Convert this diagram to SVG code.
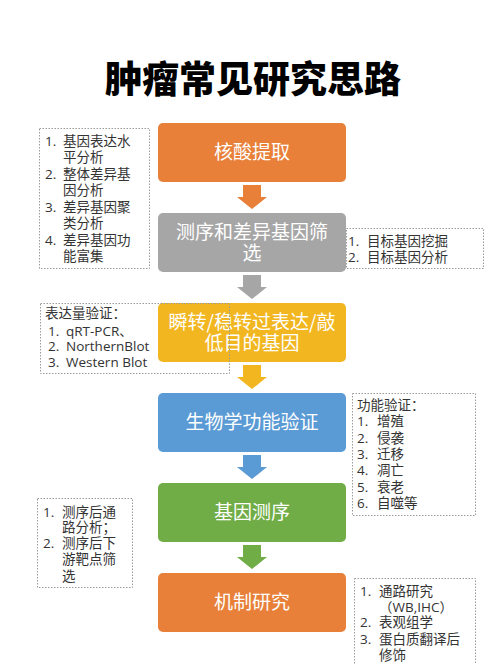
<svg xmlns="http://www.w3.org/2000/svg" width="500" height="664" viewBox="0 0 500 664">
<style>
.title{font-family:"Noto Sans CJK SC","Noto Sans",sans-serif;font-size:37px;font-weight:900;fill:#000;text-anchor:middle}
.nt{font-family:"Noto Sans CJK SC","Noto Sans",sans-serif;font-size:19px;fill:#fff;text-anchor:middle}
.note{fill:none;stroke:#9a9a9a;stroke-width:1;stroke-dasharray:1.5 1.5}
.tx{font-family:"Open Sans","Noto Sans CJK SC",sans-serif;font-size:13.5px;fill:#333}
</style>
<rect width="500" height="664" fill="#fff"/>
<text class="title" x="253" y="93">肿瘤常见研究思路</text>

<g id="connectors">
<path d="M243,185 H261 V197 H267 L252,209 L237,197 H243 Z" fill="#E8803A"/>
<path d="M243,275 H261 V287 H267 L252,299 L237,287 H243 Z" fill="#A6A6A6"/>
<path d="M243,365 H261 V377 H267 L252,389 L237,377 H243 Z" fill="#F2B620"/>
<path d="M243,455 H261 V467 H267 L252,479 L237,467 H243 Z" fill="#5B9BD5"/>
<path d="M243,545 H261 V557 H267 L252,569 L237,557 H243 Z" fill="#70AD47"/>
</g>

<g id="node1">
<rect x="158" y="123" width="188" height="59" rx="5" fill="#E8803A"/>
<text class="nt" x="252" y="159">核酸提取</text>
</g>
<g id="node2">
<rect x="158" y="213" width="188" height="59" rx="5" fill="#A6A6A6"/>
<text class="nt" x="252" y="239">测序和差异基因筛</text>
<text class="nt" x="252" y="260">选</text>
</g>
<g id="node3">
<rect x="158" y="303" width="188" height="59" rx="5" fill="#F2B620"/>
<text class="nt" x="252" y="329">瞬转/稳转过表达/敲</text>
<text class="nt" x="252" y="350">低目的基因</text>
</g>
<g id="node4">
<rect x="158" y="393" width="188" height="59" rx="5" fill="#5B9BD5"/>
<text class="nt" x="252" y="429">生物学功能验证</text>
</g>
<g id="node5">
<rect x="158" y="483" width="188" height="59" rx="5" fill="#70AD47"/>
<text class="nt" x="252" y="519">基因测序</text>
</g>
<g id="node6">
<rect x="158" y="573" width="188" height="59" rx="5" fill="#E8803A"/>
<text class="nt" x="252" y="609">机制研究</text>
</g>

<g id="note1">
<rect class="note" x="39.5" y="128.5" width="110" height="140"/>
<text class="tx" x="45" y="146">1.</text><text class="tx" x="63" y="146">基因表达水</text>
<text class="tx" x="63" y="162">平分析</text>
<text class="tx" x="45" y="179">2.</text><text class="tx" x="63" y="179">整体差异基</text>
<text class="tx" x="63" y="195">因分析</text>
<text class="tx" x="45" y="212">3.</text><text class="tx" x="63" y="212">差异基因聚</text>
<text class="tx" x="63" y="228">类分析</text>
<text class="tx" x="45" y="245">4.</text><text class="tx" x="63" y="245">差异基因功</text>
<text class="tx" x="63" y="261">能富集</text>
</g>

<g id="note2">
<rect class="note" x="346.5" y="228.5" width="137" height="40"/>
<text class="tx" x="348" y="246">1.</text><text class="tx" x="367" y="246">目标基因挖掘</text>
<text class="tx" x="348" y="262">2.</text><text class="tx" x="367" y="262">目标基因分析</text>
</g>

<g id="note3">
<rect class="note" x="40.5" y="303.5" width="189" height="70"/>
<text class="tx" x="45" y="318">表达量验证：</text>
<text class="tx" x="48" y="336">1.</text><text class="tx" x="66" y="336">qRT-PCR、</text>
<text class="tx" x="48" y="351">2.</text><text class="tx" x="66" y="351">NorthernBlot</text>
<text class="tx" x="48" y="367">3.</text><text class="tx" x="66" y="367">Western Blot</text>
</g>

<g id="note4">
<rect class="note" x="352.5" y="393.5" width="123" height="122"/>
<text class="tx" x="357" y="410">功能验证：</text>
<text class="tx" x="357" y="426">1.</text><text class="tx" x="377" y="426">增殖</text>
<text class="tx" x="357" y="443">2.</text><text class="tx" x="377" y="443">侵袭</text>
<text class="tx" x="357" y="459">3.</text><text class="tx" x="377" y="459">迁移</text>
<text class="tx" x="357" y="475">4.</text><text class="tx" x="377" y="475">凋亡</text>
<text class="tx" x="357" y="492">5.</text><text class="tx" x="377" y="492">衰老</text>
<text class="tx" x="357" y="508">6.</text><text class="tx" x="377" y="508">自噬等</text>
</g>

<g id="note5">
<rect class="note" x="37.5" y="498.5" width="95" height="89"/>
<text class="tx" x="43" y="517">1.</text><text class="tx" x="62" y="517">测序后通</text>
<text class="tx" x="62" y="532">路分析；</text>
<text class="tx" x="43" y="548">2.</text><text class="tx" x="62" y="548">测序后下</text>
<text class="tx" x="62" y="564">游靶点筛</text>
<text class="tx" x="62" y="581">选</text>
</g>

<g id="note6">
<rect class="note" x="354.5" y="578.5" width="121" height="100"/>
<text class="tx" x="360" y="596">1.</text><text class="tx" x="379" y="596">通路研究</text>
<text class="tx" x="379" y="612">（WB,IHC）</text>
<text class="tx" x="360" y="627">2.</text><text class="tx" x="379" y="627">表观组学</text>
<text class="tx" x="360" y="644">3.</text><text class="tx" x="379" y="644">蛋白质翻译后</text>
<text class="tx" x="379" y="660">修饰</text>
</g>
</svg>
